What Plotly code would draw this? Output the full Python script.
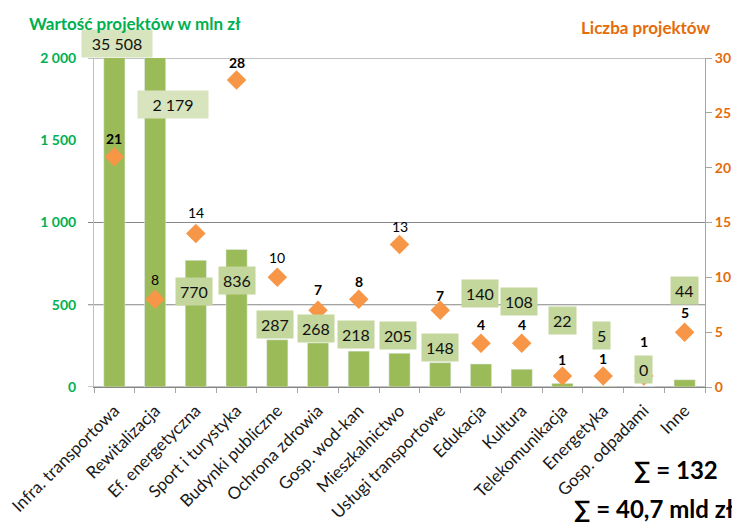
import plotly.graph_objects as go

categories = ["Infra. transportowa", "Rewitalizacja", "Ef. energetyczna", "Sport i turystyka",
              "Budynki publiczne", "Ochrona zdrowia", "Gosp. wod-kan", "Mieszkalnictwo",
              "Usługi transportowe", "Edukacja", "Kultura", "Telekomunikacja", "Energetyka",
              "Gosp. odpadami", "Inne"]
values_mln = [35508, 2179, 770, 836, 287, 268, 218, 205, 148, 140, 108, 22, 5, 0, 44]
counts = [21, 8, 14, 28, 10, 7, 8, 13, 7, 4, 4, 1, 1, 1, 5]
left_ticks = [0, 500, 1000, 1500, 2000]
right_ticks = [0, 5, 10, 15, 20, 25, 30]
grid_vals = [500, 1000, 2000]
total_count_text = "∑ = 132"
total_value_text = "∑ = 40,7 mld zł"

# style (label placement offsets in px, mirroring the manually placed labels)
val_xshift = [3, 18, -2, 0, -2, -2, -3, -2, 0, -1, -3, 0, -2, 0, 0]
val_yshift = [15, -46, -31, -31, 15, 14, 17, 18, 15, 70, 68, 63, 51, 18, 89]
val_width = [62, 62] + [None] * 13
val_bg = ["#D7E4BD", "#D7E4BD"] + ["#C3D69B"] * 13
cnt_yshift = [18, 20, 21, 17, 20, 21, 18, 18, 15, 19, 19, 17, 18, 35, 20]
cnt_weight = ["bold", "normal", "normal", "bold", "normal", "bold", "bold", "normal",
              "bold", "bold", "bold", "bold", "bold", "bold", "bold"]

FONT = "Lato"
GREEN = "#00B050"
ORANGE = "#E46C0A"
YMAX = 2000
NCAT = len(categories)


def fmt(v):
    return f"{v:,}".replace(",", " ")


fig = go.Figure()
fig.add_trace(go.Bar(x=categories, y=values_mln, marker_color="#9BBB59",
                     width=0.52, yaxis="y", hoverinfo="x+y"))
fig.add_trace(go.Scatter(x=categories, y=counts, mode="markers", yaxis="y2",
                         marker=dict(symbol="diamond", size=15, color="#F79646",
                                     line=dict(width=0))))

annotations = []
for i, c in enumerate(categories):
    a = dict(x=c, y=min(values_mln[i], YMAX), xref="x", yref="y",
             text=fmt(values_mln[i]), showarrow=False, xanchor="center", yanchor="middle",
             xshift=val_xshift[i], yshift=val_yshift[i], bgcolor=val_bg[i], borderpad=4,
             font=dict(family=FONT, size=16, color="#111111"))
    if val_width[i]:
        a["width"] = val_width[i]
    annotations.append(a)

for i, c in enumerate(categories):
    annotations.append(dict(x=c, y=counts[i], xref="x", yref="y2", text=str(counts[i]),
                            showarrow=False, xanchor="center", yanchor="middle",
                            yshift=cnt_yshift[i],
                            font=dict(family=FONT, size=14, color="#000000",
                                      weight=cnt_weight[i])))

annotations += [
    dict(x=-0.1097, y=1.105, xref="paper", yref="paper", text="Wartość projektów w mln zł",
         showarrow=False, xanchor="left", yanchor="middle",
         font=dict(family=FONT, size=17, color=GREEN, weight="bold")),
    dict(x=1.0115, y=1.094, xref="paper", yref="paper", text="Liczba projektów",
         showarrow=False, xanchor="right", yanchor="middle",
         font=dict(family=FONT, size=17, color=ORANGE, weight="bold")),
    dict(x=1.0245, y=-0.25, xref="paper", yref="paper", text=total_count_text,
         showarrow=False, xanchor="right", yanchor="middle",
         font=dict(family=FONT, size=24, color="#000000", weight="bold")),
    dict(x=0.782, y=-0.368, xref="paper", yref="paper", text=total_value_text,
         showarrow=False, xanchor="left", yanchor="middle",
         font=dict(family=FONT, size=24, color="#000000", weight="bold")),
]

shapes = []
for g in [0] + grid_vals:
    shapes.append(dict(type="line", xref="paper", yref="y", x0=-0.0098, x1=1, y0=g, y1=g,
                       line=dict(color="#868686", width=1), layer="below"))

fig.update_layout(
    width=740, height=522,
    margin=dict(l=86, r=43, t=50, b=143),
    paper_bgcolor="white", plot_bgcolor="white",
    showlegend=False,
    bargap=0.48,
    annotations=annotations,
    shapes=shapes,
    xaxis=dict(range=[-0.5, NCAT - 0.5], showline=True, linecolor="#868686",
               ticks="outside", tickson="boundaries",
               ticklen=5, tickcolor="#A6A6A6", tickangle=-45, showgrid=False,
               automargin=False, ticklabelstandoff=6,
               tickfont=dict(family=FONT, size=17, color="#1a1a1a")),
    yaxis=dict(range=[0, YMAX], tickvals=left_ticks, ticktext=[fmt(t) for t in left_ticks],
               showgrid=False, zeroline=False, showline=True, linecolor="#BFBFBF",
               ticks="", ticklabelstandoff=14, automargin=False,
               tickfont=dict(family=FONT, size=14, color=GREEN, weight="bold")),
    yaxis2=dict(range=[0, 30], tickvals=right_ticks, overlaying="y", side="right",
                showgrid=False, zeroline=False, showline=True, linecolor="#A6A6A6",
                ticks="outside", ticklen=6, tickcolor="#A6A6A6", ticklabelstandoff=0,
                automargin=False,
                tickfont=dict(family=FONT, size=14, color=ORANGE, weight="bold")),
)

fig.write_html("out.html")
